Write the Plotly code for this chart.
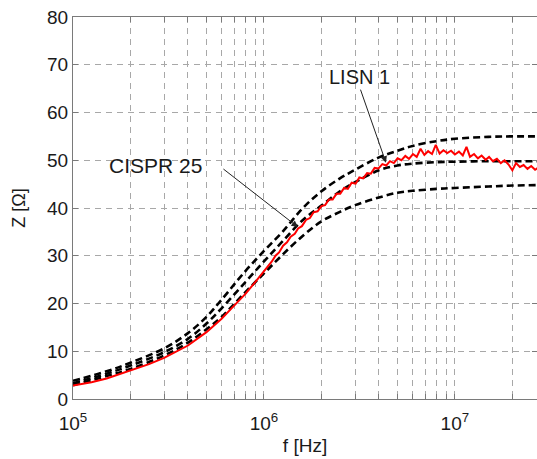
import plotly.graph_objects as go

# ---- data ----
f_cispr = [1e5, 1.5e5, 2e5, 3e5, 4e5, 5e5, 6e5, 8e5, 1e6, 1.25e6, 1.6e6, 2e6, 2.5e6,
           3e6, 4e6, 5e6, 6e6, 8e6, 1e7, 1.5e7, 2e7, 2.75e7]
z_upper = [3.8, 5.8, 7.6, 10.6, 13.8, 17.2, 20.8, 26.8, 31.0, 35.0, 40.0, 43.5, 46.2,
           48.0, 50.6, 52.0, 53.0, 54.0, 54.5, 54.9, 55.0, 55.0]
z_nominal = [3.3, 5.3, 7.0, 9.8, 12.6, 15.8, 19.0, 24.5, 28.8, 33.0, 37.5, 40.5, 43.5,
             45.4, 47.9, 48.9, 49.3, 49.6, 49.7, 49.8, 49.8, 49.8]
z_lower = [2.9, 4.8, 6.3, 9.1, 11.8, 14.6, 17.2, 22.4, 26.3, 30.2, 34.2, 37.2, 39.2,
           40.6, 42.2, 43.2, 43.6, 44.0, 44.2, 44.5, 44.7, 44.8]

f_lisn = [1e5, 1.25e5, 1.5e5, 2e5, 2.5e5, 3e5, 4e5, 5e5, 6e5, 7e5, 8e5, 9e5,
          1.00e6, 1.05e6, 1.10e6, 1.15e6, 1.20e6, 1.26e6, 1.32e6, 1.38e6, 1.45e6, 1.51e6,
          1.58e6, 1.66e6, 1.74e6, 1.82e6, 1.91e6, 2.00e6, 2.09e6, 2.19e6, 2.29e6, 2.40e6,
          2.51e6, 2.63e6, 2.75e6, 2.88e6, 3.02e6, 3.16e6, 3.31e6, 3.47e6, 3.63e6, 3.80e6,
          3.98e6, 4.17e6, 4.37e6, 4.57e6, 4.79e6, 5.01e6, 5.25e6, 5.50e6, 5.75e6, 6.03e6,
          6.31e6, 6.61e6, 6.92e6, 7.24e6, 7.59e6, 7.94e6, 8.32e6, 8.71e6, 9.12e6, 9.55e6,
          1.00e7, 1.05e7, 1.10e7, 1.15e7, 1.20e7, 1.26e7, 1.32e7, 1.38e7, 1.45e7, 1.51e7,
          1.58e7, 1.66e7, 1.74e7, 1.82e7, 1.91e7, 2.00e7, 2.09e7, 2.19e7, 2.29e7, 2.40e7,
          2.51e7, 2.63e7, 2.75e7]
z_lisn = [2.8, 3.5, 4.3, 5.9, 7.3, 8.6, 11.2, 14.0, 16.8, 19.6, 22.0, 24.5,
          26.7, 27.9, 28.8, 30.0, 30.7, 32.1, 32.8, 34.0, 34.6, 35.7,
          36.2, 37.5, 37.9, 39.1, 39.3, 40.4, 40.6, 41.8, 41.8, 43.0,
          43.0, 44.2, 44.0, 45.3, 45.1, 46.4, 46.2, 47.3, 47.2, 48.4,
          48.3, 49.2, 48.9, 49.8, 49.4, 50.4, 50.0, 50.9, 50.3, 51.3,
          50.7, 52.4, 51.1, 51.9, 51.3, 53.2, 51.4, 52.1, 51.5, 52.0,
          51.2, 51.8, 51.0, 52.8, 50.7, 51.3, 50.4, 51.0, 50.1, 50.7,
          49.8, 50.3, 49.4, 50.0, 49.1, 47.9, 49.4, 48.6, 49.0, 48.2,
          48.8, 48.0, 48.5]

x_major = [1e5, 1e6, 1e7]
x_major_text = ["10<sup>5</sup>", "10<sup>6</sup>", "10<sup>7</sup>"]
x_minor = [2e5, 3e5, 4e5, 5e5, 6e5, 7e5, 8e5, 9e5,
           2e6, 3e6, 4e6, 5e6, 6e6, 7e6, 8e6, 9e6, 2e7]
y_ticks = [0, 10, 20, 30, 40, 50, 60, 70, 80]

FONT = "Liberation Sans, Arial, sans-serif"
GRID = "#a8a8a8"
AX = "#7a7a7a"

fig = go.Figure()
for z in (z_upper, z_nominal, z_lower):
    fig.add_trace(go.Scatter(x=f_cispr, y=z, mode="lines", line_shape="spline",
                             line=dict(color="black", width=2.6, dash="7px,4px"),
                             hoverinfo="skip"))
fig.add_trace(go.Scatter(x=f_lisn, y=z_lisn, mode="lines",
                         line=dict(color="#ff0000", width=2), hoverinfo="skip"))

fig.update_layout(
    width=537, height=459,
    margin=dict(l=73, r=0, t=17, b=60),
    plot_bgcolor="white", paper_bgcolor="white",
    showlegend=False,
    font=dict(family=FONT, color="#1a1a1a", size=19),
)
fig.update_xaxes(
    type="log", range=[5, 7.43], automargin=False,
    tickmode="array", tickvals=x_major, ticktext=x_major_text,
    ticks="inside", ticklen=5, tickcolor=AX, ticklabelstandoff=7,
    ticklabeloverflow="allow",
    showline=True, linecolor=AX, linewidth=1, mirror="ticks",
    showgrid=True, gridcolor=GRID, griddash="6px,5px", gridwidth=1,
    minor=dict(tickmode="array", tickvals=x_minor, ticks="inside", ticklen=5,
               tickcolor=AX, showgrid=True, gridcolor=GRID, griddash="6px,5px",
               gridwidth=1),
    zeroline=False,
    title=dict(text="f [Hz]", standoff=5, font=dict(size=19)),
    tickfont=dict(size=19),
)
fig.update_yaxes(
    range=[0, 80], tickmode="array", tickvals=y_ticks, automargin=False,
    ticks="inside", ticklen=5, tickcolor=AX, ticklabeloverflow="allow",
    showline=True, linecolor=AX, linewidth=1, mirror="ticks",
    showgrid=True, gridcolor=GRID, griddash="6px,5px", gridwidth=1,
    zeroline=False,
    title=dict(text="Z [Ω]", standoff=16, font=dict(size=18)),
    tickfont=dict(size=19),
)

# annotations (log axis: x given as log10 of frequency)
fig.add_annotation(x=5.43, y=49.0, xref="x", yref="y", text="CISPR 25",
                   showarrow=False, font=dict(size=21, family=FONT, color="#1a1a1a"))
fig.add_annotation(x=6.178, y=36.0, xref="x", yref="y", ax=5.780, ay=48.4,
                   axref="x", ayref="y", text="", showarrow=True,
                   arrowhead=2, arrowsize=1.3, arrowwidth=1, arrowcolor="#222")
fig.add_annotation(x=6.50, y=67.5, xref="x", yref="y", text="LISN 1",
                   showarrow=False, font=dict(size=20, family=FONT, color="#1a1a1a"))
fig.add_annotation(x=6.639, y=49.5, xref="x", yref="y", ax=6.503, ay=65.1,
                   axref="x", ayref="y", text="", showarrow=True,
                   arrowhead=2, arrowsize=1.3, arrowwidth=1, arrowcolor="#222")

# remove the default 8px page margin so the figure fills the window exactly
fig.write_html("out.html", config={"displayModeBar": False},
               post_script="document.body.style.margin='0';document.body.style.overflow='hidden';")
